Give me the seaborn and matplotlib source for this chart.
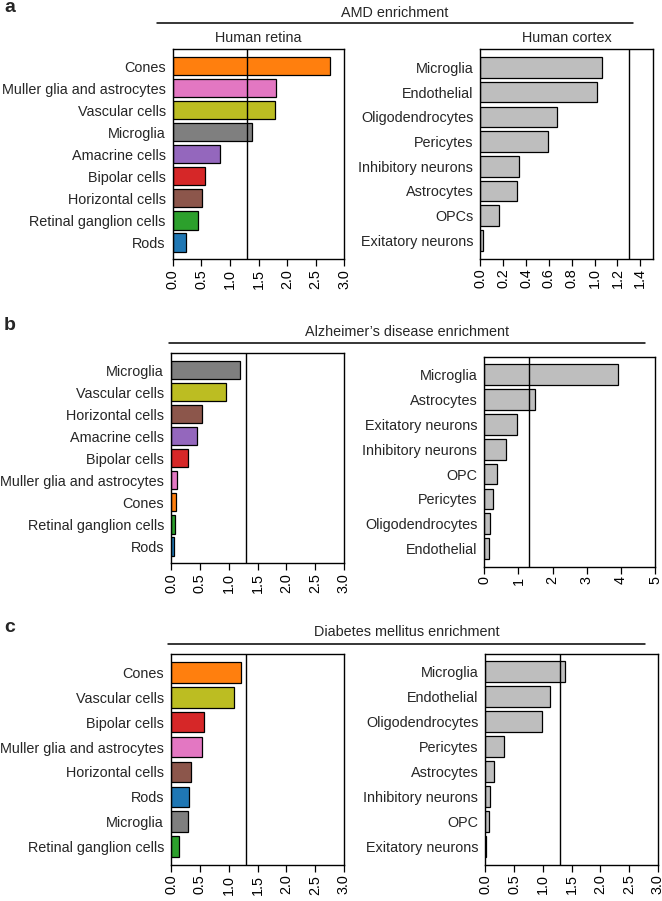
import numpy as np
import pandas as pd
import matplotlib
matplotlib.use("Agg")
import matplotlib.pyplot as plt
from matplotlib.lines import Line2D
import seaborn as sns

# retina (left) panels
retina_a_labels = ['Cones', 'Muller glia and astrocytes', 'Vascular cells', 'Microglia', 'Amacrine cells',
                   'Bipolar cells', 'Horizontal cells', 'Retinal ganglion cells', 'Rods']
retina_a_vals = [2.75, 1.80, 1.78, 1.39, 0.83, 0.565, 0.51, 0.45, 0.23]

retina_b_labels = ['Microglia', 'Vascular cells', 'Horizontal cells', 'Amacrine cells', 'Bipolar cells',
                   'Muller glia and astrocytes', 'Cones', 'Retinal ganglion cells', 'Rods']
retina_b_vals = [1.20, 0.955, 0.535, 0.45, 0.29, 0.10, 0.08, 0.07, 0.05]

retina_c_labels = ['Cones', 'Vascular cells', 'Bipolar cells', 'Muller glia and astrocytes', 'Horizontal cells',
                   'Rods', 'Microglia', 'Retinal ganglion cells']
retina_c_vals = [1.21, 1.09, 0.57, 0.545, 0.34, 0.31, 0.29, 0.14]

# cortex (right) panels
cortex_a_labels = ['Microglia', 'Endothelial', 'Oligodendrocytes', 'Pericytes', 'Inhibitory neurons',
                   'Astrocytes', 'OPCs', 'Exitatory neurons']
cortex_a_vals = [1.065, 1.02, 0.67, 0.595, 0.34, 0.32, 0.16, 0.02]

cortex_b_labels = ['Microglia', 'Astrocytes', 'Exitatory neurons', 'Inhibitory neurons', 'OPC',
                   'Pericytes', 'Oligodendrocytes', 'Endothelial']
cortex_b_vals = [3.92, 1.49, 0.95, 0.63, 0.36, 0.25, 0.16, 0.15]

cortex_c_labels = ['Microglia', 'Endothelial', 'Oligodendrocytes', 'Pericytes', 'Astrocytes',
                   'Inhibitory neurons', 'OPC', 'Exitatory neurons']
cortex_c_vals = [1.39, 1.12, 0.98, 0.325, 0.16, 0.087, 0.064, 0.017]

retina_colors = {
    'Cones': '#ff7f0e', 'Muller glia and astrocytes': '#e377c2', 'Vascular cells': '#bcbd22',
    'Microglia': '#7f7f7f', 'Amacrine cells': '#9467bd', 'Bipolar cells': '#d62728',
    'Horizontal cells': '#8c564b', 'Retinal ganglion cells': '#2ca02c', 'Rods': '#1f77b4',
}
cortex_grey = '#bebebe'
threshold = 1.3  # -log10(0.05)

sns.set_style("white")
plt.rcParams['font.family'] = ['Liberation Sans', 'DejaVu Sans']
FS = 10.4

W, H = 662, 901
fig = plt.figure(figsize=(W / 100, H / 100), dpi=100)


def add_ax(x0, x1, top, bot):
    return fig.add_axes([x0 / W, 1 - bot / H, (x1 - x0) / W, (bot - top) / H])


def draw_panel(ax, labels, vals, xmax, xticks, tickfmt, colors=None):
    df = pd.DataFrame({'cell': labels, 'val': vals})
    if colors is None:
        sns.barplot(data=df, x='val', y='cell', color=cortex_grey, orient='h', ax=ax,
                    width=1 / 1.2, edgecolor='black', linewidth=0.9, saturation=1)
    else:
        sns.barplot(data=df, x='val', y='cell', hue='cell', palette=colors, orient='h', ax=ax,
                    width=1 / 1.2, edgecolor='black', linewidth=0.9, saturation=1, legend=False)
    n = len(labels)
    pad = 0.4167 + 0.04 * (1.2 * n - 0.2) / 1.2
    ax.set_ylim(n - 1 + pad, -pad)
    ax.set_xlim(0, xmax)
    ax.axvline(threshold, color='black', lw=1.0)
    ax.set_xticks(xticks)
    ax.set_xticklabels([tickfmt.format(t) for t in xticks], rotation=90, fontsize=FS)
    ax.tick_params(axis='x', bottom=True, length=5, width=0.9, pad=2, colors='black')
    ax.tick_params(axis='y', length=0, pad=5, labelsize=FS)
    ax.set_xlabel('')
    ax.set_ylabel('')
    for s in ax.spines.values():
        s.set_visible(True)
        s.set_color('black')
        s.set_linewidth(1.0)


def header(text, x0, x1, y_line, y_text):
    fig.add_artist(Line2D([x0 / W, x1 / W], [1 - y_line / H, 1 - y_line / H],
                          color='black', lw=1.1, transform=fig.transFigure))
    fig.text((x0 + x1) / 2 / W, 1 - y_text / H, text, ha='center', va='center', fontsize=FS)


t05 = np.arange(0, 3.01, 0.5)

# a
ax = add_ax(172.7, 344.3, 49.3, 259.3)
draw_panel(ax, retina_a_labels, retina_a_vals, 3.0, t05, '{:.1f}', retina_colors)
ax.set_title('Human retina', fontsize=FS, pad=5)
ax = add_ax(480.3, 652.7, 49.3, 258.5)
draw_panel(ax, cortex_a_labels, cortex_a_vals, 1.508, np.arange(0, 1.41, 0.2), '{:.1f}')
ax.set_title('Human cortex', fontsize=FS, pad=5)
header('AMD enrichment', 157, 633, 23, 13)

# b
ax = add_ax(171, 344, 353.3, 563.3)
draw_panel(ax, retina_b_labels, retina_b_vals, 3.0, t05, '{:.1f}', retina_colors)
ax = add_ax(484.3, 655, 356.7, 566.7)
draw_panel(ax, cortex_b_labels, cortex_b_vals, 5, np.arange(0, 6), '{:.0f}')
header('Alzheimer\u2019s disease enrichment', 169, 645, 342.7, 331.5)

# c
ax = add_ax(171, 344, 654, 865)
draw_panel(ax, retina_c_labels, retina_c_vals, 3.0, t05, '{:.1f}', retina_colors)
ax = add_ax(485.3, 657.7, 653.5, 864.7)
draw_panel(ax, cortex_c_labels, cortex_c_vals, 3.0, t05, '{:.1f}')
header('Diabetes mellitus enrichment', 168, 645, 644, 632)

for lab, y in [('a', 8), ('b', 325), ('c', 627)]:
    fig.text(4 / W, 1 - y / H, lab, fontsize=14, fontweight='bold', ha='left', va='center')

fig.savefig('out.png', dpi=100)
